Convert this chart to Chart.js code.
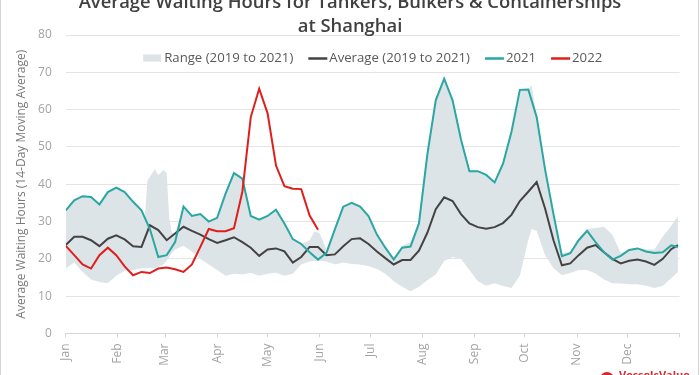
<!DOCTYPE html>
<html>
<head>
<meta charset="utf-8">
<script src="https://cdn.jsdelivr.net/npm/chart.js@4/dist/chart.umd.min.js"></script>
<style>
html,body{margin:0;padding:0;background:#fff;}
#wrap{position:relative;width:700px;height:375px;overflow:hidden;}
canvas{display:block;}
</style>
</head>
<body>
<div id="wrap"><canvas id="c" width="700" height="375"></canvas></div>
<script>
// ---------- data ----------
const TITLE_LINES = ['Average Waiting Hours for Tankers, Bulkers & Containerships', 'at Shanghai'];
const Y_TITLE = 'Average Waiting Hours (14-Day Moving Average)';
const MONTHS = ['Jan','Feb','Mar','Apr','May','Jun','Jul','Aug','Sep','Oct','Nov','Dec'];
const MONTH_START_DAYS = [0,31,59,90,120,151,181,212,243,273,304,334,365];
const Y_MIN = 0, Y_MAX = 80, Y_STEP = 10;

// day of year for the line series
const DAYS = [0,5,10,15,20,25,30,35,40,45,50,55,60,65,70,75,80,85,90,95,100,105,110,115,120,125,130,135,140,145,150,155,160,165,170,175,180,185,190,195,200,205,210,215,220,225,230,235,240,245,250,255,260,265,270,275,280,285,290,295,300,305,310,315,320,325,330,335,340,345,350,355,360,364];

const AVG_2019_2021 = [23.7,25.9,25.9,25,23.4,25.4,26.3,25.2,23.4,23.2,29,27.7,25,26.8,28.6,27.5,26.5,25.3,24.3,25,25.8,24.5,23,20.8,22.5,22.8,22,19,20.5,23.2,23.2,21,21.2,23.4,25.3,25.5,24,22,20.2,18.5,19.7,19.7,22.2,27,33.3,36.5,35.5,32,29.5,28.5,28.1,28.5,29.6,31.8,35.5,38,40.6,33.5,25,18.3,18.8,21,23,23.7,21.8,20,18.8,19.5,19.8,19.3,18.4,20,22.6,23.7];

const Y2021 = [33,35.7,36.8,36.6,34.6,37.9,39.1,37.9,35.3,33,28,20.5,21,24.5,34,31.5,32,30,31,37.5,43,41.5,31.5,30.5,31.5,33.2,29.5,25.3,24,21.8,19.8,21.6,27.9,34,35,34,31.5,26.5,23,19.8,23,23.3,29.5,48,62.5,68.3,62.5,52,43.5,43.5,42.5,40.5,45.5,54,65.3,65.4,58,44,32,20.7,21.5,25,27.5,24.5,21.8,19.8,20.8,22.4,22.8,22,21.6,21.8,23.6,23.2];

// 2022 runs only to the start of June (first values of DAYS)
const Y2022 = [23.5,21,18.5,17.4,21,23,21,18,15.6,16.5,16.2,17.4,17.7,17.2,16.5,18.5,23.2,28,27.4,27.4,28.2,38,58,65.6,59,45,39.5,38.8,38.7,31.6,27.8];

// 2019-2021 range band
const RANGE_DAYS = [0,5,10,15,20,25,30,35,40,45,47,48.5,50,53,55,58,60,61.5,63,65,70,75,80,85,90,95,100,105,110,115,120,125,130,135,140,145,148,151,155,160,165,170,175,180,185,190,195,200,205,210,215,220,225,230,235,240,245,250,255,260,265,270,275,277,280,285,290,295,300,305,310,315,320,325,330,335,340,345,350,355,360,364];
const RANGE_MAX = [33,35.7,36.8,36.6,34.6,37.9,39.1,37.9,35.3,33,31,41,42,44,42.5,43.8,43,31,27,27,34,31.5,32,30,31,37.5,43,41.5,31.5,30.5,31.5,33.2,29.5,25.3,24,25,27.4,26.8,22.5,27.9,34,35,34,31.5,26.5,23,20.5,23.5,24.5,29.5,48,62.5,68.3,62.5,52,43.5,43.5,42.5,40.5,45.5,54,65.3,65.4,66.5,58,44,32,21.5,22,25.5,28,28.3,28.6,26.5,21.5,22.5,23,22.5,22.5,26,28.8,31.5];
const RANGE_MIN = [17.4,19,16.5,14.5,13.8,13.5,15.5,16.8,17,17.5,17.5,17.5,17.5,17.5,17.8,18.5,19.5,20.5,21.5,22.5,23.5,22,20,18.5,17,15.5,16,15.8,16.3,15.5,16,16.3,15.5,16,18.5,19.3,19.5,19.5,19.3,18.5,19,18.6,18.5,18,17.3,16,14,12.5,11.3,12.5,14.3,15.8,19.4,20.5,20,17,14,12.8,13.5,12.7,12.2,15.5,25,28,27.5,21,17.5,15.6,16.2,17,17,16.1,14.5,13.5,13.4,13.2,13.2,12.8,12.2,12.8,14.8,16.5];

// ---------- styles ----------
const C_RANGE = '#dde4e7';
const C_AVG = '#434343';
const C_2021 = '#2aa6a3';
const C_2022 = '#de1f1c';
const FONT = '"Open Sans", "Noto Sans", sans-serif';

const pts = (xs, ys) => ys.map((v, i) => ({x: xs[i], y: v}));

const decor = {
  id: 'decor',
  afterDraw(chart) {
    const ctx = chart.ctx;
    const area = chart.chartArea;
    ctx.save();
    // card border
    ctx.strokeStyle = '#d4d4d4';
    ctx.lineWidth = 1;
    ctx.beginPath();
    ctx.moveTo(0.5, 0); ctx.lineTo(0.5, 375);
    ctx.moveTo(698.5, 0); ctx.lineTo(698.5, 375);
    ctx.stroke();
    // title
    ctx.fillStyle = '#404040';
    ctx.font = '600 18.4px ' + FONT;
    ctx.textAlign = 'center';
    ctx.textBaseline = 'middle';
    ctx.fillText(TITLE_LINES[0], 350, 3);
    ctx.fillText(TITLE_LINES[1], 350, 27);
    // legend (overlaid inside plot area)
    const items = [
      {label: chart.data.datasets[3].label, type: 'box', color: C_RANGE},
      {label: chart.data.datasets[2].label, type: 'line', color: C_AVG},
      {label: chart.data.datasets[1].label, type: 'line', color: C_2021},
      {label: chart.data.datasets[0].label, type: 'line', color: C_2022}
    ];
    ctx.font = '13.2px ' + FONT;
    const markW = 19, gap = 2, spacing = 15;
    let total = 0;
    items.forEach((it, i) => { it.w = markW + gap + ctx.measureText(it.label).width; total += it.w + (i ? spacing : 0); });
    let x = (area.left + area.right) / 2 - total / 2;
    const y = 58;
    items.forEach(it => {
      if (it.type === 'box') {
        ctx.fillStyle = it.color;
        ctx.fillRect(x, y - 3.5, markW - 1, 7);
      } else {
        ctx.strokeStyle = it.color;
        ctx.lineWidth = 2.5;
        ctx.beginPath(); ctx.moveTo(x, y + 0.5); ctx.lineTo(x + markW, y + 0.5); ctx.stroke();
      }
      ctx.fillStyle = '#595959';
      ctx.textAlign = 'left';
      ctx.textBaseline = 'middle';
      ctx.fillText(it.label, x + markW + gap, y);
      x += it.w + spacing;
    });
    // logo (cut at bottom edge)
    ctx.fillStyle = '#d7262d';
    ctx.beginPath(); ctx.arc(607, 379, 7, 0, Math.PI * 2); ctx.fill();
    ctx.font = 'bold 11px ' + FONT;
    ctx.textAlign = 'left';
    ctx.textBaseline = 'top';
    ctx.fillText('VesselsValue', 619, 370);
    ctx.restore();
  }
};

new Chart(document.getElementById('c'), {
  type: 'line',
  data: {
    datasets: [
      {label: '2022', data: pts(DAYS, Y2022), borderColor: C_2022, borderWidth: 2, pointRadius: 0, fill: false, order: 0},
      {label: '2021', data: pts(DAYS, Y2021), borderColor: C_2021, borderWidth: 2, pointRadius: 0, fill: false, order: 1},
      {label: 'Average (2019 to 2021)', data: pts(DAYS, AVG_2019_2021), borderColor: C_AVG, borderWidth: 2, pointRadius: 0, fill: false, order: 2},
      {label: 'Range (2019 to 2021)', data: pts(RANGE_DAYS, RANGE_MAX), borderWidth: 0, borderColor: 'rgba(0,0,0,0)', backgroundColor: C_RANGE, pointRadius: 0, fill: {target: 4}, order: 3},
      {label: 'Range min', data: pts(RANGE_DAYS, RANGE_MIN), borderWidth: 0, borderColor: 'rgba(0,0,0,0)', pointRadius: 0, fill: false, order: 4}
    ]
  },
  options: {
    responsive: false,
    animation: false,
    devicePixelRatio: 1,
    layout: {padding: {left: 10, right: 11.2, top: 35, bottom: 0}},
    elements: {line: {tension: 0}},
    plugins: {legend: {display: false}, tooltip: {enabled: false}, title: {display: false}},
    scales: {
      x: {
        type: 'linear', min: 0, max: 365,
        afterBuildTicks: s => { s.ticks = MONTH_START_DAYS.map(v => ({value: v})); },
        afterFit: s => { s.height = 41.5; },
        grid: {display: true, drawOnChartArea: false, drawTicks: true, tickLength: 4, color: '#d6d6d6'},
        border: {display: true, color: '#d6d6d6', width: 1},
        ticks: {
          autoSkip: false, minRotation: 90, maxRotation: 90, padding: 6,
          color: '#a3a3a3', font: {family: FONT, size: 12},
          callback: v => { const i = MONTH_START_DAYS.indexOf(v); return i >= 0 && i < MONTHS.length ? MONTHS[i] : ''; }
        }
      },
      y: {
        min: Y_MIN, max: Y_MAX,
        afterFit: s => { s.width = 55.8; },
        grid: {color: '#e4e4e4', drawTicks: false},
        border: {display: false},
        ticks: {stepSize: Y_STEP, padding: 14, color: '#a3a3a3', font: {family: FONT, size: 12}},
        title: {display: true, text: Y_TITLE, color: '#7a7a7a', font: {family: FONT, size: 12}, padding: {top: 4, bottom: 8}}
      }
    }
  },
  plugins: [decor]
});
</script>
</body>
</html>
